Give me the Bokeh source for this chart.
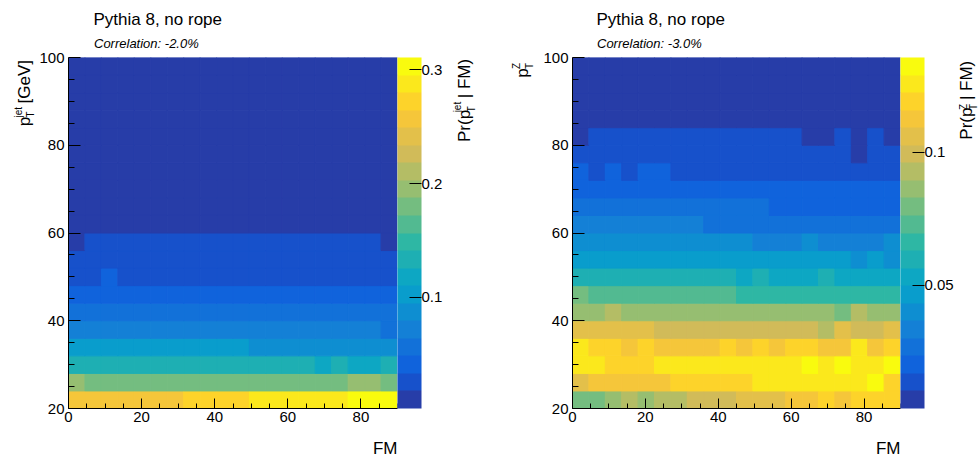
import numpy as np
from bokeh.plotting import figure
from bokeh.layouts import row, column
from bokeh.models import (ColumnDataSource, LinearColorMapper, ColorBar,
                          FixedTicker, Range1d)
from bokeh.core.properties import value
from bokeh.transform import transform
from bokeh.embed import file_html
from bokeh.resources import INLINE

FONT = "Liberation Sans"

# ---------------------------------------------------------------- binning
fm_edges = np.linspace(0.0, 90.0, 21)      # 20 FM bins
pt_edges = np.linspace(20.0, 100.0, 21)    # 20 pT bins

x_major = [0, 20, 40, 60, 80]
x_minor = [5, 10, 15, 25, 30, 35, 45, 50, 55, 65, 70, 75, 85, 90]
y_major = [20, 40, 60, 80, 100]
y_minor = [25, 30, 35, 45, 50, 55, 65, 70, 75, 85, 90, 95]

# ------------------------------------------------ Pr(pT^jet | FM), left pad
# one row per pT bin (20-24, 24-28, ...), one column per FM bin
pr_ptjet = [
    [0.255, 0.258, 0.256, 0.259, 0.257, 0.260, 0.262, 0.268, 0.271, 0.273, 0.276, 0.282, 0.285, 0.287, 0.289, 0.291, 0.293, 0.299, 0.304, 0.310],
    [0.191, 0.184, 0.182, 0.181, 0.180, 0.179, 0.180, 0.178, 0.179, 0.177, 0.178, 0.177, 0.176, 0.178, 0.177, 0.179, 0.181, 0.189, 0.190, 0.184],
    [0.134, 0.135, 0.134, 0.133, 0.134, 0.133, 0.132, 0.133, 0.132, 0.131, 0.132, 0.131, 0.130, 0.130, 0.129, 0.123, 0.128, 0.121, 0.122, 0.127],
    [0.103, 0.104, 0.103, 0.102, 0.103, 0.102, 0.101, 0.101, 0.100, 0.099, 0.098, 0.093, 0.092, 0.092, 0.091, 0.091, 0.090, 0.090, 0.089, 0.088],
    [0.074, 0.073, 0.073, 0.072, 0.072, 0.071, 0.071, 0.071, 0.070, 0.070, 0.070, 0.069, 0.069, 0.068, 0.068, 0.068, 0.067, 0.067, 0.067, 0.061],
    [0.057, 0.057, 0.056, 0.056, 0.056, 0.055, 0.055, 0.055, 0.055, 0.054, 0.054, 0.054, 0.054, 0.053, 0.053, 0.053, 0.053, 0.052, 0.052, 0.054],
    [0.042, 0.042, 0.041, 0.041, 0.041, 0.041, 0.040, 0.040, 0.040, 0.040, 0.040, 0.040, 0.039, 0.039, 0.039, 0.039, 0.039, 0.039, 0.038, 0.040],
    [0.030, 0.030, 0.036, 0.030, 0.030, 0.030, 0.030, 0.029, 0.029, 0.029, 0.029, 0.029, 0.029, 0.028, 0.028, 0.028, 0.028, 0.028, 0.028, 0.029],
    [0.024, 0.024, 0.024, 0.023, 0.023, 0.023, 0.023, 0.023, 0.023, 0.022, 0.022, 0.022, 0.022, 0.022, 0.022, 0.022, 0.021, 0.021, 0.021, 0.022],
    [0.015, 0.020, 0.020, 0.020, 0.020, 0.020, 0.020, 0.020, 0.019, 0.019, 0.019, 0.019, 0.019, 0.019, 0.019, 0.019, 0.019, 0.019, 0.019, 0.016],
    [0.013, 0.014, 0.014, 0.013, 0.014, 0.013, 0.013, 0.013, 0.013, 0.013, 0.013, 0.013, 0.013, 0.012, 0.013, 0.012, 0.012, 0.012, 0.012, 0.012],
    [0.011, 0.011, 0.011, 0.011, 0.011, 0.011, 0.010, 0.010, 0.010, 0.010, 0.010, 0.010, 0.010, 0.010, 0.010, 0.010, 0.010, 0.009, 0.010, 0.010],
    [0.009, 0.009, 0.009, 0.009, 0.009, 0.009, 0.009, 0.009, 0.009, 0.009, 0.009, 0.009, 0.009, 0.009, 0.008, 0.009, 0.008, 0.008, 0.008, 0.008],
    [0.008, 0.008, 0.008, 0.008, 0.008, 0.008, 0.008, 0.008, 0.007, 0.008, 0.007, 0.007, 0.007, 0.007, 0.007, 0.007, 0.007, 0.007, 0.007, 0.007],
    [0.007, 0.007, 0.007, 0.007, 0.007, 0.006, 0.006, 0.006, 0.006, 0.006, 0.006, 0.006, 0.006, 0.006, 0.006, 0.006, 0.006, 0.006, 0.006, 0.006],
    [0.006, 0.006, 0.006, 0.006, 0.005, 0.005, 0.005, 0.005, 0.005, 0.005, 0.005, 0.005, 0.005, 0.005, 0.005, 0.005, 0.005, 0.005, 0.005, 0.005],
    [0.005, 0.005, 0.005, 0.004, 0.004, 0.004, 0.004, 0.004, 0.004, 0.004, 0.004, 0.004, 0.004, 0.004, 0.004, 0.004, 0.004, 0.004, 0.004, 0.004],
    [0.004, 0.004, 0.004, 0.004, 0.004, 0.004, 0.004, 0.004, 0.004, 0.004, 0.004, 0.004, 0.004, 0.004, 0.004, 0.004, 0.004, 0.004, 0.004, 0.004],
    [0.004, 0.003, 0.003, 0.003, 0.003, 0.003, 0.003, 0.003, 0.003, 0.003, 0.003, 0.003, 0.003, 0.003, 0.003, 0.003, 0.003, 0.003, 0.003, 0.003],
    [0.003, 0.003, 0.003, 0.003, 0.003, 0.003, 0.003, 0.003, 0.003, 0.002, 0.003, 0.003, 0.003, 0.002, 0.003, 0.003, 0.002, 0.003, 0.003, 0.003],
]
ptjet_z_low, ptjet_z_high = 0.002, 0.311
ptjet_bar_ticks = [0.1, 0.2, 0.3]
ptjet_correlation = "Correlation: -2.0%"

# -------------------------------------------------- Pr(pT^Z | FM), right pad
pr_ptz = [
    [0.079, 0.080, 0.086, 0.092, 0.087, 0.093, 0.094, 0.098, 0.099, 0.100, 0.105, 0.106, 0.107, 0.112, 0.113, 0.119, 0.114, 0.118, 0.120, 0.119],
    [0.106, 0.112, 0.113, 0.112, 0.114, 0.113, 0.118, 0.119, 0.120, 0.119, 0.120, 0.125, 0.126, 0.126, 0.125, 0.127, 0.126, 0.126, 0.131, 0.121],
    [0.126, 0.125, 0.120, 0.121, 0.120, 0.125, 0.126, 0.127, 0.126, 0.125, 0.127, 0.126, 0.127, 0.126, 0.132, 0.127, 0.133, 0.126, 0.127, 0.1355],
    [0.124, 0.118, 0.119, 0.113, 0.118, 0.112, 0.113, 0.112, 0.114, 0.118, 0.113, 0.117, 0.114, 0.118, 0.119, 0.113, 0.112, 0.124, 0.113, 0.117],
    [0.106, 0.105, 0.106, 0.105, 0.104, 0.099, 0.100, 0.099, 0.100, 0.099, 0.098, 0.099, 0.100, 0.099, 0.098, 0.093, 0.105, 0.099, 0.100, 0.106],
    [0.087, 0.086, 0.092, 0.086, 0.087, 0.086, 0.085, 0.086, 0.087, 0.086, 0.086, 0.085, 0.086, 0.087, 0.086, 0.085, 0.080, 0.092, 0.086, 0.087],
    [0.079, 0.073, 0.074, 0.073, 0.073, 0.072, 0.073, 0.073, 0.072, 0.072, 0.066, 0.066, 0.067, 0.066, 0.066, 0.067, 0.066, 0.066, 0.067, 0.066],
    [0.060, 0.060, 0.059, 0.060, 0.059, 0.060, 0.059, 0.059, 0.060, 0.059, 0.053, 0.059, 0.053, 0.054, 0.053, 0.059, 0.053, 0.054, 0.053, 0.053],
    [0.046, 0.047, 0.046, 0.046, 0.047, 0.046, 0.046, 0.047, 0.046, 0.046, 0.047, 0.046, 0.046, 0.046, 0.047, 0.046, 0.046, 0.040, 0.046, 0.040],
    [0.040, 0.040, 0.039, 0.040, 0.040, 0.039, 0.040, 0.040, 0.039, 0.040, 0.039, 0.033, 0.034, 0.033, 0.039, 0.033, 0.034, 0.033, 0.034, 0.039],
    [0.033, 0.034, 0.033, 0.033, 0.033, 0.034, 0.033, 0.033, 0.027, 0.027, 0.027, 0.026, 0.027, 0.027, 0.026, 0.027, 0.027, 0.026, 0.027, 0.027],
    [0.027, 0.027, 0.026, 0.027, 0.027, 0.026, 0.026, 0.027, 0.026, 0.026, 0.026, 0.025, 0.020, 0.020, 0.021, 0.020, 0.020, 0.020, 0.021, 0.020],
    [0.021, 0.020, 0.021, 0.020, 0.020, 0.020, 0.020, 0.020, 0.020, 0.019, 0.020, 0.019, 0.019, 0.019, 0.019, 0.019, 0.019, 0.019, 0.019, 0.019],
    [0.018, 0.015, 0.018, 0.015, 0.018, 0.018, 0.015, 0.015, 0.015, 0.014, 0.015, 0.014, 0.014, 0.014, 0.014, 0.014, 0.014, 0.014, 0.014, 0.014],
    [0.013, 0.013, 0.013, 0.013, 0.013, 0.012, 0.012, 0.012, 0.012, 0.012, 0.012, 0.012, 0.012, 0.012, 0.012, 0.012, 0.011, 0.009, 0.011, 0.011],
    [0.009, 0.011, 0.011, 0.011, 0.011, 0.011, 0.011, 0.011, 0.011, 0.011, 0.011, 0.011, 0.011, 0.011, 0.009, 0.009, 0.011, 0.009, 0.011, 0.009],
    [0.008, 0.008, 0.008, 0.008, 0.008, 0.008, 0.008, 0.008, 0.008, 0.008, 0.008, 0.008, 0.008, 0.008, 0.007, 0.008, 0.008, 0.007, 0.008, 0.007],
    [0.007, 0.007, 0.007, 0.007, 0.007, 0.007, 0.007, 0.007, 0.007, 0.007, 0.007, 0.007, 0.007, 0.006, 0.006, 0.007, 0.006, 0.006, 0.007, 0.006],
    [0.006, 0.006, 0.006, 0.006, 0.006, 0.006, 0.006, 0.006, 0.006, 0.006, 0.006, 0.006, 0.005, 0.005, 0.005, 0.005, 0.005, 0.005, 0.005, 0.005],
    [0.005, 0.005, 0.005, 0.005, 0.005, 0.005, 0.005, 0.005, 0.005, 0.005, 0.005, 0.005, 0.005, 0.004, 0.004, 0.004, 0.004, 0.004, 0.004, 0.004],
]
ptz_z_low, ptz_z_high = 0.0035, 0.1358
ptz_bar_ticks = [0.05, 0.1]
ptz_correlation = "Correlation: -3.0%"

model_title = "Pythia 8, no rope"


# ------------------------------------------ ROOT "kBird" palette, 20 contours
def bird_contours(n_contours=20, n_colors=255):
    stops = [0.0, 0.125, 0.25, 0.375, 0.5, 0.625, 0.75, 0.875, 1.0]
    red = [0.2082, 0.0592, 0.0780, 0.0232, 0.1802, 0.5301, 0.8186, 0.9956, 0.9764]
    green = [0.1664, 0.3599, 0.5041, 0.6419, 0.7178, 0.7492, 0.7328, 0.7862, 0.9832]
    blue = [0.5293, 0.8684, 0.8385, 0.7914, 0.6425, 0.4662, 0.3499, 0.1968, 0.0539]
    out = []
    for i in range(n_contours):
        idx = min(int((i + 0.99) * n_colors / n_contours), n_colors - 1)
        t = idx / (n_colors - 1)
        rgb = [int(round(255 * np.interp(t, stops, c))) for c in (red, green, blue)]
        out.append("#%02x%02x%02x" % tuple(rgb))
    return out


PALETTE = bird_contours()

# page rows: titles 0-50, pads 50-430, x titles 430-457
ROW_TOP, ROW_BOTTOM, PAGE_H, PAGE_W = 50, 430, 457, 979
# Bokeh sets the alphabetic baseline about 0.3 em lower than a plain canvas
BASELINE_FIX = 0.3


def cell_source(z_rows):
    z = np.asarray(z_rows, dtype=float)
    ny, nx = z.shape
    jj, ii = np.meshgrid(np.arange(ny), np.arange(nx), indexing="ij")
    return ColumnDataSource(dict(
        left=fm_edges[ii].ravel(), right=fm_edges[ii + 1].ravel(),
        bottom=pt_edges[jj].ravel(), top=pt_edges[jj + 1].ravel(),
        z=z.ravel()))


def strip(x0, x1, y0, y1):
    """Text-only panel whose data coordinates are page pixels (y negated)."""
    s = figure(width=x1 - x0, height=y1 - y0, title=None,
               x_range=Range1d(x0, x1), y_range=Range1d(-y1, -y0),
               x_axis_type=None, y_axis_type=None, min_border=0,
               output_backend="svg", toolbar_location=None)
    s.outline_line_color = None
    s.background_fill_color = "white"
    s.border_fill_color = "white"
    return s


def write(s, x, y, t, size, style="normal", align="left", angle=0.0):
    # shift along the text's own "up" direction to land the baseline at (x, y)
    shift = BASELINE_FIX * size
    x -= shift * np.sin(angle)
    y -= shift * np.cos(angle)
    s.text(x=[x], y=[-y], text=[t], angle=angle,
           text_font=value(FONT), text_font_size=value(f"{size}px"),
           text_font_style=style, text_align=align,
           text_baseline="alphabetic", text_color="black")


def pad(z_rows, z_low, z_high, bar_ticks, x0, x1, frame_l, frame_r):
    p = figure(width=x1 - x0, height=ROW_BOTTOM - ROW_TOP, title=None,
               x_range=Range1d(0, 90), y_range=Range1d(20, 100),
               output_backend="svg", toolbar_location=None,
               min_border_left=frame_l - x0, min_border_right=x1 - frame_r,
               min_border_top=57 - ROW_TOP, min_border_bottom=ROW_BOTTOM - 408)
    p.background_fill_color = "white"
    p.border_fill_color = "white"
    p.outline_line_color = None
    p.grid.visible = False

    mapper = LinearColorMapper(palette=PALETTE, low=z_low, high=z_high)
    p.quad(left="left", right="right", bottom="bottom", top="top",
           source=cell_source(z_rows),
           fill_color=transform("z", mapper), line_color=transform("z", mapper),
           line_width=1)

    p.xaxis.ticker = FixedTicker(ticks=x_major, minor_ticks=x_minor)
    p.yaxis.ticker = FixedTicker(ticks=y_major, minor_ticks=y_minor)
    for ax in (p.xaxis, p.yaxis):
        ax.axis_line_color = "black"
        ax.major_tick_line_color = "black"
        ax.minor_tick_line_color = "black"
        ax.major_tick_out = 0
        ax.minor_tick_out = 0
        ax.major_label_text_font = FONT
        ax.major_label_text_font_size = "15px"
        ax.major_label_text_color = "black"
    p.xaxis.major_tick_in = 10
    p.xaxis.minor_tick_in = 5
    p.xaxis.major_label_standoff = 3
    p.yaxis.major_tick_in = 12
    p.yaxis.minor_tick_in = 6
    p.yaxis.major_label_standoff = 4

    overrides = {t: "%g" % t for t in bar_ticks}
    cb = ColorBar(color_mapper=mapper, ticker=FixedTicker(ticks=bar_ticks),
                  major_label_overrides=overrides, width=24,
                  margin=0, padding=0, label_standoff=0,
                  major_tick_in=12, major_tick_out=0,
                  major_tick_line_color="black", minor_tick_line_color=None,
                  bar_line_color=None, border_line_color=None,
                  major_label_text_font=FONT, major_label_text_font_size="15px",
                  major_label_text_color="black")
    p.add_layout(cb, "right")
    return p


up = np.pi / 2

# ------------------------------------------------------------ titles on top
top = strip(0, PAGE_W, 0, ROW_TOP)
write(top, 93, 24, model_title, 17)
write(top, 93.5, 47, ptjet_correlation, 13, style="italic")
write(top, 596, 24, model_title, 17)
write(top, 596.5, 47, ptz_correlation, 13, style="italic")

# ---------------------------------------------------------------- left pad
ytitle_l = strip(0, 36, ROW_TOP, ROW_BOTTOM)
write(ytitle_l, 29, 124.5, "p", 17, angle=up)
write(ytitle_l, 20.5, 115, "jet", 10, angle=up)
write(ytitle_l, 33, 115, "T", 10, angle=up)
write(ytitle_l, 29, 99.7, "[GeV]", 17, angle=up)

pad_l = pad(pr_ptjet, ptjet_z_low, ptjet_z_high, ptjet_bar_ticks, 36, 449, 68, 397)

ztitle_l = strip(449, 490, ROW_TOP, ROW_BOTTOM)
write(ztitle_l, 469, 141.5, "Pr(p", 17, angle=up)
write(ztitle_l, 460, 109.4, "jet", 10, angle=up)
write(ztitle_l, 474, 109.4, "T", 10, angle=up)
write(ztitle_l, 469, 94.1, "| FM)", 17, angle=up)

# --------------------------------------------------------------- right pad
ytitle_r = strip(490, 540, ROW_TOP, ROW_BOTTOM)
write(ytitle_r, 527, 72, "p", 17, angle=up)
write(ytitle_r, 519, 62.5, "Z", 10, angle=up)
write(ytitle_r, 531.5, 62.5, "T", 10, angle=up)

pad_r = pad(pr_ptz, ptz_z_low, ptz_z_high, ptz_bar_ticks, 540, 958, 572, 900)

ztitle_r = strip(958, PAGE_W, ROW_TOP, ROW_BOTTOM)
write(ztitle_r, 971, 139, "Pr(p", 17, angle=up)
write(ztitle_r, 965.5, 106.9, "Z", 10, angle=up)
write(ztitle_r, 975.5, 106.9, "T", 10, angle=up)
write(ztitle_r, 971, 96.1, "| FM)", 17, angle=up)

# ------------------------------------------------------- x titles at bottom
bottom = strip(0, PAGE_W, ROW_BOTTOM, PAGE_H)
write(bottom, 397, 453, "FM", 17, align="right")
write(bottom, 900, 453, "FM", 17, align="right")

layout = column(top,
                row(ytitle_l, pad_l, ztitle_l, ytitle_r, pad_r, ztitle_r),
                bottom)
open("out.html", "w").write(file_html(layout, INLINE))
